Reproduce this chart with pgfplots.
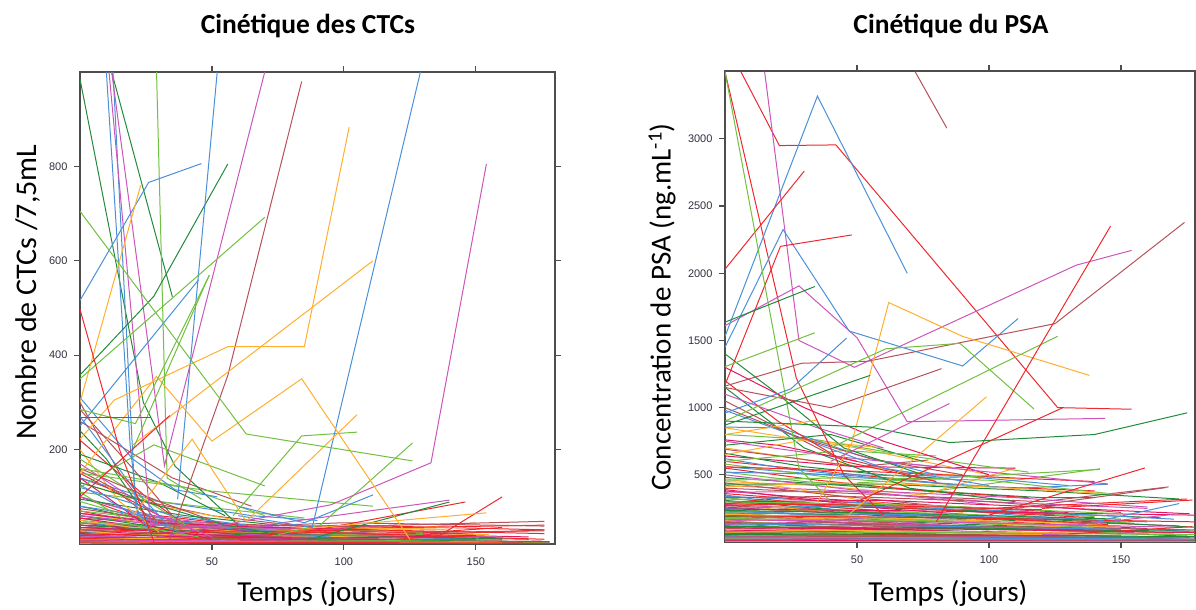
\documentclass[border=0pt]{standalone}
\usepackage{fontspec}
\setmainfont{Carlito}
\newfontfamily\tickfont{Liberation Sans}
\usepackage{pgfplots}
\pgfplotsset{compat=1.18}

\definecolor{cR}{HTML}{F0282D}
\definecolor{cB}{HTML}{4A90D9}
\definecolor{cG}{HTML}{72C040}
\definecolor{cD}{HTML}{228B3B}
\definecolor{cO}{HTML}{FFAE2E}
\definecolor{cM}{HTML}{CC55BB}
\definecolor{cN}{HTML}{B5525A}
\definecolor{cK}{HTML}{E0185E}
\definecolor{axcol}{HTML}{4D4D4D}
\definecolor{tkcol}{HTML}{303040}

\pgfplotsset{
  lattice/.style={
    anchor=south west, scale only axis,
    tick align=outside, major tick length=6pt,
    xticklabel pos=lower, yticklabel pos=left,
    xticklabel shift=4pt, yticklabel shift=3pt,
    axis line style={color=axcol, line width=1.2pt},
    every tick/.style={color=axcol, line width=1.2pt},
    tick label style={font=\tickfont\fontsize{11}{13}\selectfont, color=tkcol},
    /pgf/number format/assume math mode=true,
    /pgf/number format/1000 sep={},
    every axis plot/.append style={line width=1pt},
  }
}

\begin{document}
\begin{tikzpicture}
\useasboundingbox (0,0) rectangle (1196pt,610pt);

% ---------- left: CTC ----------
\begin{axis}[lattice, at={(80pt,66pt)}, width=475pt, height=472pt,
  xmin=0, xmax=180, ymin=0, ymax=1000,
  xtick={50,100,150}, ytick={200,400,600,800}]
% dense low mass
\addplot[cR] coordinates {(0,45)(40,20)(90,10)(176,30)};
\addplot[cB] coordinates {(0,30)(35,15)(80,8)};
\addplot[cG] coordinates {(0,55)(30,25)(60,12)(120,5)};
\addplot[cD] coordinates {(0,25)(50,12)(110,6)(178,2)};
\addplot[cO] coordinates {(0,40)(45,30)(100,20)(150,45)};
\addplot[cM] coordinates {(0,20)(30,18)(70,10)(130,15)};
\addplot[cN] coordinates {(0,35)(60,25)(120,40)(176,48)};
\addplot[cK] coordinates {(0,15)(40,10)(90,5)(170,3)};
\addplot[cR] coordinates {(0,70)(28,40)(75,30)(176,40)};
\addplot[cB] coordinates {(0,12)(50,8)(100,15)(160,10)};
\addplot[cG] coordinates {(0,90)(25,50)(55,30)};
\addplot[cD] coordinates {(0,50)(35,28)(80,20)(150,12)};
\addplot[cO] coordinates {(0,18)(40,22)(95,35)(140,30)};
\addplot[cM] coordinates {(0,40)(20,25)(60,20)(110,25)};
\addplot[cN] coordinates {(0,10)(45,15)(100,22)(176,28)};
\addplot[cK] coordinates {(0,28)(30,20)(70,28)(120,18)};
\addplot[cR] coordinates {(0,8)(60,12)(120,20)(160,35)};
\addplot[cB] coordinates {(0,60)(25,45)(55,30)(90,20)};
\addplot[cG] coordinates {(0,22)(50,18)(100,10)(178,4)};
\addplot[cD] coordinates {(0,80)(30,45)(65,25)(100,12)};
\addplot[cO] coordinates {(0,35)(35,20)(80,25)(130,10)};
\addplot[cM] coordinates {(0,5)(40,8)(90,12)(150,6)};
\addplot[cN] coordinates {(0,55)(40,40)(90,30)(140,25)};
\addplot[cK] coordinates {(0,40)(50,30)(110,22)(170,15)};
\addplot[cR] coordinates {(0,25)(25,30)(60,22)(100,28)(150,20)};
\addplot[cB] coordinates {(0,45)(45,25)(90,18)(140,12)};
\addplot[cG] coordinates {(0,12)(35,6)(80,4)(130,3)};
\addplot[cD] coordinates {(0,15)(60,10)(120,8)(178,5)};
\addplot[cO] coordinates {(0,65)(30,40)(75,20)};
\addplot[cM] coordinates {(0,30)(40,35)(85,30)(120,40)};
\addplot[cN] coordinates {(0,20)(30,12)(70,8)(150,10)};
\addplot[cK] coordinates {(0,55)(25,35)(60,25)(95,30)};
\addplot[cR] coordinates {(0,100)(20,60)(50,35)(110,20)};
\addplot[cB] coordinates {(0,80)(30,55)(60,30)(100,25)};
\addplot[cG] coordinates {(0,35)(40,28)(95,20)(150,15)};
\addplot[cD] coordinates {(0,5)(50,3)(120,2)(178,1)};
\addplot[cO] coordinates {(0,10)(30,12)(80,15)(155,20)};
\addplot[cM] coordinates {(0,65)(35,45)(80,35)};
\addplot[cN] coordinates {(0,45)(50,35)(100,45)(176,38)};
\addplot[cK] coordinates {(0,8)(40,4)(110,3)(175,6)};
\addplot[cR] coordinates {(0,35)(45,28)(100,40)(176,30)};
\addplot[cB] coordinates {(0,20)(20,40)(50,25)(95,15)};
\addplot[cG] coordinates {(0,70)(40,45)(85,25)(130,20)};
\addplot[cD] coordinates {(0,40)(45,25)(100,18)(170,10)};
\addplot[cO] coordinates {(0,28)(25,18)(55,25)(100,30)(145,35)};
\addplot[cM] coordinates {(0,15)(55,20)(110,18)(160,15)};
\addplot[cN] coordinates {(0,75)(30,50)(70,40)(120,35)};
\addplot[cK] coordinates {(0,22)(40,15)(90,12)(150,18)};
\addplot[cR] coordinates {(0,12)(30,8)(90,25)(176,10)};
\addplot[cB] coordinates {(0,100)(20,70)(45,40)(70,30)};
\addplot[cG] coordinates {(0,45)(60,35)(130,25)};
\addplot[cD] coordinates {(0,60)(30,35)(70,15)(120,8)};
\addplot[cO] coordinates {(0,50)(20,35)(45,30)};
\addplot[cM] coordinates {(0,100)(25,60)(55,40)};
\addplot[cN] coordinates {(0,30)(45,20)(100,12)(160,8)};
\addplot[cK] coordinates {(0,65)(30,45)(70,35)(110,30)};
\addplot[cR] coordinates {(0,18)(50,25)(110,30)(176,22)};
\addplot[cB] coordinates {(0,3)(60,5)(130,4)(178,2)};
\addplot[cG] coordinates {(0,6)(50,5)(120,7)(176,3)};
\addplot[cD] coordinates {(0,2)(80,2)(178,1)};
\addplot[cO] coordinates {(0,2)(70,4)(160,3)};
\addplot[cR] coordinates {(0,4)(90,3)(178,2)};
\addplot[cM] coordinates {(0,9)(60,6)(140,5)};
\addplot[cK] coordinates {(0,35)(20,30)(45,20)(80,12)};
\addplot[cN] coordinates {(0,140)(25,90)(50,60)(80,40)};
\addplot[cR] coordinates {(0,150)(30,60)(60,40)};
\addplot[cB] coordinates {(0,140)(30,90)(65,60)(90,50)};
\addplot[cG] coordinates {(0,110)(45,80)(85,55)};
\addplot[cD] coordinates {(0,95)(40,60)(75,40)};
\addplot[cO] coordinates {(0,130)(30,80)(60,50)};
\addplot[cN] coordinates {(0,300)(15,150)(30,40)};
\addplot[cB] coordinates {(0,270)(20,120)(35,30)};
\addplot[cD] coordinates {(0,240)(10,180)(25,60)};
\addplot[cR] coordinates {(0,220)(25,100)(45,20)};
\addplot[cO] coordinates {(0,200)(15,90)(30,25)};
\addplot[cG] coordinates {(0,180)(20,110)(40,40)};
\addplot[cM] coordinates {(0,170)(30,60)(50,15)};
\addplot[cN] coordinates {(0,155)(12,120)(28,50)};
\addplot[cK] coordinates {(0,140)(25,40)(50,10)};
\addplot[cB] coordinates {(0,125)(18,70)(40,20)};
\addplot[cG] coordinates {(0,110)(20,40)(45,15)};
\addplot[cD] coordinates {(0,190)(30,130)(55,60)};
\addplot[cN] coordinates {(0,260)(35,140)(65,80)};
% mid-level lines
\addplot[cN] coordinates {(0,285)(20,160)(35,60)};
\addplot[cN] coordinates {(0,160)(30,90)(60,30)};
\addplot[cG] coordinates {(0,160)(40,120)(70,60)};
\addplot[cD] coordinates {(0,130)(55,40)(75,20)};
\addplot[cB] coordinates {(0,120)(35,60)(63,40)};
\addplot[cM] coordinates {(0,60)(30,40)(90,30)};
\addplot[cR] coordinates {(120,10)(136,17)(160,100)};
\addplot[cR] coordinates {(85,25)(146,89)};
\addplot[cD] coordinates {(90,15)(140,89)};
\addplot[cM] coordinates {(70,40)(140,93)};
\addplot[cG] coordinates {(0,150)(50,112)(111,80)};
\addplot[cB] coordinates {(60,80)(85,45)(111,104)};
\addplot[cO] coordinates {(80,30)(154,66)};
\addplot[cG] coordinates {(0,120)(28,210)(70,123)};
\addplot[cG] coordinates {(58,60)(84,229)(105,237)};
\addplot[cG] coordinates {(75,20)(91,40)(126,214)};
% tall lines
\addplot[cD] coordinates {(0,985)(24,300)(36,165)(60,40)};
\addplot[cD] coordinates {(12,1000)(35,524)};
\addplot[cG] coordinates {(29,1000)(33,140)(46,95)};
\addplot[cB] coordinates {(10,1000)(19,210)(22,60)};
\addplot[cB] coordinates {(12.5,1000)(21,80)(27,20)};
\addplot[cM] coordinates {(12,1000)(32,166)(70,1000)};
\addplot[cM] coordinates {(11,1000)(27,30)};
\addplot[cB] coordinates {(0,516)(26,766)(46,806)};
\addplot[cD] coordinates {(0,358)(28,525)(56,805)};
\addplot[cB] coordinates {(37,95)(52,1000)};
\addplot[cB] coordinates {(0,250)(45,560)};
\addplot[cB] coordinates {(0,310)(20,180)(36,115)(52,100)};
\addplot[cN] coordinates {(34,10)(56,357)(84,980)};
\addplot[cB] coordinates {(60,60)(88,35)(129,1000)};
\addplot[cM] coordinates {(30,15)(95,83)(133,172)(154,805)};
\addplot[cO] coordinates {(0,222)(13,305)(56,418)(85,418)(102,883)};
\addplot[cO] coordinates {(20,210)(111,600)};
\addplot[cO] coordinates {(0,300)(23,760)};
\addplot[cO] coordinates {(0,150)(29,355)(50,218)(84,350)(125,10)};
\addplot[cO] coordinates {(20,60)(42.5,222)(63,48)(105,274)};
\addplot[cG] coordinates {(0,705)(63,233)(126,176)};
\addplot[cG] coordinates {(0,350)(70,692)};
\addplot[cG] coordinates {(20,200)(49,570)};
\addplot[cG] coordinates {(0,285)(21,255)(49,569)};
\addplot[cR] coordinates {(0,497)(15,200)(28,5)};
\addplot[cR] coordinates {(0,267)(27,267)};
\addplot[cR] coordinates {(0,100)(34,272)};
\end{axis}

% ---------- right: PSA ----------
\begin{axis}[lattice, at={(725pt,68pt)}, width=470pt, height=471pt,
  xmin=0, xmax=178, ymin=0, ymax=3505,
  xtick={50,100,150}, ytick={500,1000,1500,2000,2500,3000}]
\addplot[cR] coordinates {(0,600)(40,520)(90,420)(140,380)};
\addplot[cB] coordinates {(0,560)(50,480)(110,400)(145,430)};
\addplot[cG] coordinates {(0,520)(30,450)(80,380)(142,545)};
\addplot[cD] coordinates {(0,480)(60,400)(120,330)(140,330)};
\addplot[cO] coordinates {(0,450)(35,420)(75,350)(110,550)};
\addplot[cM] coordinates {(0,420)(45,380)(100,300)(160,250)};
\addplot[cN] coordinates {(0,400)(50,360)(120,300)(168,410)};
\addplot[cK] coordinates {(0,380)(30,330)(70,280)(130,220)};
\addplot[cR] coordinates {(0,360)(40,300)(100,250)(175,320)};
\addplot[cB] coordinates {(0,340)(55,290)(110,200)(150,150)};
\addplot[cG] coordinates {(0,320)(25,300)(80,240)(140,190)};
\addplot[cD] coordinates {(0,300)(50,260)(100,230)(165,180)};
\addplot[cO] coordinates {(0,290)(40,240)(90,180)(150,120)};
\addplot[cM] coordinates {(0,280)(30,250)(70,200)(120,160)};
\addplot[cN] coordinates {(0,270)(60,220)(130,150)(172,120)};
\addplot[cK] coordinates {(0,260)(45,210)(95,160)(160,100)};
\addplot[cR] coordinates {(0,250)(35,230)(85,190)(145,130)};
\addplot[cB] coordinates {(0,240)(50,190)(115,130)(176,80)};
\addplot[cG] coordinates {(0,230)(40,200)(90,150)(135,110)};
\addplot[cD] coordinates {(0,220)(30,180)(80,140)(150,90)};
\addplot[cO] coordinates {(0,210)(55,170)(120,120)(170,60)};
\addplot[cM] coordinates {(0,200)(45,160)(100,110)(155,70)};
\addplot[cN] coordinates {(0,190)(35,170)(75,130)(130,100)};
\addplot[cK] coordinates {(0,180)(50,140)(110,100)(178,40)};
\addplot[cR] coordinates {(0,170)(40,150)(95,110)(160,80)};
\addplot[cB] coordinates {(0,160)(30,120)(70,90)(125,60)};
\addplot[cG] coordinates {(0,150)(60,120)(130,80)(175,50)};
\addplot[cD] coordinates {(0,140)(45,110)(100,70)(150,40)};
\addplot[cO] coordinates {(0,130)(35,100)(85,70)(140,50)};
\addplot[cM] coordinates {(0,120)(50,90)(115,60)(170,30)};
\addplot[cN] coordinates {(0,110)(40,80)(90,50)(145,30)};
\addplot[cK] coordinates {(0,100)(30,75)(75,55)(135,35)};
\addplot[cR] coordinates {(0,90)(55,70)(120,40)(178,20)};
\addplot[cB] coordinates {(0,80)(45,60)(100,40)(160,25)};
\addplot[cG] coordinates {(0,70)(35,50)(80,35)(130,20)};
\addplot[cD] coordinates {(0,60)(50,45)(110,30)(176,15)};
\addplot[cO] coordinates {(0,50)(40,40)(95,25)(150,15)};
\addplot[cM] coordinates {(0,40)(30,30)(70,20)(120,12)};
\addplot[cN] coordinates {(0,30)(60,25)(130,15)(178,8)};
\addplot[cK] coordinates {(0,20)(45,15)(100,10)(170,5)};
\addplot[cR] coordinates {(0,10)(50,8)(120,5)(178,3)};
\addplot[cD] coordinates {(0,5)(70,4)(178,2)};
\addplot[cB] coordinates {(0,350)(25,280)(60,200)(100,150)};
\addplot[cG] coordinates {(0,330)(40,260)(85,200)};
\addplot[cD] coordinates {(0,310)(35,250)(70,190)(110,160)};
\addplot[cO] coordinates {(0,470)(25,400)(55,300)(90,220)};
\addplot[cM] coordinates {(0,500)(30,430)(65,350)(100,280)};
\addplot[cN] coordinates {(0,440)(40,350)(85,260)(125,200)};
\addplot[cK] coordinates {(0,390)(30,320)(60,250)(95,200)};
\addplot[cR] coordinates {(0,550)(35,460)(75,380)(115,330)};
\addplot[cB] coordinates {(0,620)(25,540)(55,480)(90,420)};
\addplot[cG] coordinates {(0,580)(40,480)(80,420)};
\addplot[cD] coordinates {(0,660)(30,560)(60,500)(85,470)};
\addplot[cO] coordinates {(0,700)(35,600)(70,520)(110,470)};
\addplot[cM] coordinates {(0,750)(40,640)(80,560)};
\addplot[cN] coordinates {(0,690)(20,640)(50,560)(77,610)};
\addplot[cK] coordinates {(0,640)(50,560)(110,550)};
\addplot[cR] coordinates {(0,560)(60,520)(140,450)};
\addplot[cB] coordinates {(0,520)(45,500)(90,490)(130,420)};
\addplot[cG] coordinates {(0,460)(50,480)(100,460)(150,350)};
\addplot[cD] coordinates {(0,430)(60,430)(120,380)(172,320)};
\addplot[cO] coordinates {(0,410)(40,440)(90,420)(145,360)};
\addplot[cM] coordinates {(0,370)(55,380)(110,330)(160,260)};
\addplot[cN] coordinates {(0,330)(45,340)(100,300)(150,220)};
\addplot[cK] coordinates {(0,300)(60,310)(120,260)(176,210)};
\addplot[cR] coordinates {(0,270)(30,290)(80,240)(140,180)};
\addplot[cB] coordinates {(0,250)(50,270)(110,230)(170,170)};
\addplot[cG] coordinates {(0,220)(40,240)(100,200)(155,140)};
\addplot[cD] coordinates {(0,190)(55,210)(120,170)(178,110)};
\addplot[cO] coordinates {(0,160)(45,180)(90,150)(150,110)};
\addplot[cM] coordinates {(0,130)(35,150)(85,120)(140,80)};
\addplot[cN] coordinates {(0,100)(50,120)(115,90)(170,70)};
\addplot[cK] coordinates {(0,80)(40,100)(90,80)(150,60)};
\addplot[cR] coordinates {(0,60)(30,80)(75,60)(130,45)};
\addplot[cB] coordinates {(0,40)(60,55)(125,45)(176,35)};
\addplot[cG] coordinates {(0,25)(45,35)(100,30)(160,25)};
\addplot[cD] coordinates {(0,15)(50,20)(120,15)(178,12)};
\addplot[cO] coordinates {(0,200)(20,260)(40,220)(70,150)};
\addplot[cM] coordinates {(0,150)(25,200)(55,170)(85,120)};
\addplot[cN] coordinates {(0,100)(30,150)(60,130)(100,90)};
\addplot[cK] coordinates {(0,50)(20,90)(45,80)(80,60)};
\addplot[cR] coordinates {(0,280)(15,320)(40,260)(60,230)};
\addplot[cB] coordinates {(0,230)(25,210)(50,180)(75,200)};
\addplot[cG] coordinates {(0,180)(30,200)(65,170)(105,130)};
\addplot[cD] coordinates {(0,120)(40,100)(85,110)(130,90)};
\addplot[cO] coordinates {(0,70)(35,90)(70,70)(120,55)};
\addplot[cM] coordinates {(0,35)(45,50)(90,40)(140,30)};
\addplot[cN] coordinates {(0,12)(60,15)(120,10)(175,8)};
\addplot[cK] coordinates {(0,8)(40,10)(100,6)(178,4)};
\addplot[cG] coordinates {(0,3)(90,3)(178,2)};
% near-flat low band
\addplot[cK] coordinates {(0,245)(80,230)(178,200)};
\addplot[cD] coordinates {(0,235)(60,215)(150,170)};
\addplot[cB] coordinates {(0,215)(70,205)(160,150)};
\addplot[cO] coordinates {(0,205)(50,185)(130,140)};
\addplot[cR] coordinates {(0,195)(90,180)(178,150)};
\addplot[cG] coordinates {(0,175)(60,160)(140,120)};
\addplot[cM] coordinates {(0,165)(80,150)(170,110)};
\addplot[cN] coordinates {(0,145)(50,130)(120,110)(178,90)};
\addplot[cB] coordinates {(0,135)(70,120)(150,95)};
\addplot[cD] coordinates {(0,115)(60,105)(178,80)};
\addplot[cK] coordinates {(0,105)(90,95)(178,70)};
\addplot[cO] coordinates {(0,95)(50,85)(140,65)};
\addplot[cG] coordinates {(0,75)(80,70)(178,55)};
\addplot[cR] coordinates {(0,65)(60,55)(150,45)};
\addplot[cD] coordinates {(0,55)(100,50)(178,40)};
\addplot[cN] coordinates {(0,45)(70,40)(178,30)};
\addplot[cB] coordinates {(0,32)(90,28)(178,22)};
\addplot[cM] coordinates {(0,22)(60,20)(178,15)};
\addplot[cG] coordinates {(0,300)(80,270)(150,210)};
\addplot[cR] coordinates {(0,285)(50,275)(120,240)};
% upper-left descending lines
\addplot[cD] coordinates {(0,1150)(30,700)(70,400)(110,300)};
\addplot[cN] coordinates {(0,1050)(40,650)(80,450)};
\addplot[cB] coordinates {(0,980)(25,800)(60,550)(100,420)};
\addplot[cO] coordinates {(0,850)(50,700)(100,500)};
\addplot[cG] coordinates {(0,800)(35,760)(70,640)(115,520)};
\addplot[cK] coordinates {(0,760)(20,720)(50,600)};
\addplot[cD] coordinates {(0,720)(40,800)(75,600)};
\addplot[cO] coordinates {(0,650)(30,760)(60,700)};
\addplot[cG] coordinates {(0,600)(45,680)(80,640)};
\addplot[cB] coordinates {(0,855)(21,850)(50,650)(80,500)};
\addplot[cR] coordinates {(0,1200)(20,900)(45,600)(80,450)};
\addplot[cM] coordinates {(0,1100)(35,850)(60,700)};
\addplot[cN] coordinates {(0,1000)(28,780)(55,620)(90,500)};
\addplot[cD] coordinates {(0,1400)(20,1100)(45,700)(75,500)};
\addplot[cK] coordinates {(0,1300)(30,1000)(60,750)(100,500)};
\addplot[cO] coordinates {(0,800)(35,908)};
% prominent lines
\addplot[cR] coordinates {(100,200)(159,551)};
\addplot[cN] coordinates {(110,250)(167,405)};
\addplot[cR] coordinates {(120,250)(177,312)};
\addplot[cB] coordinates {(140,150)(172,286)};
\addplot[cM] coordinates {(130,120)(170,206)};
\addplot[cR] coordinates {(130,60)(177,114)};
\addplot[cM] coordinates {(60,600)(145,432)};
\addplot[cG] coordinates {(50,440)(142,540)};
\addplot[cR] coordinates {(0,3500)(27,1220)(45,500)(60,200)};
\addplot[cR] coordinates {(6,3500)(20.6,2950)(42,2955)(126,1000)(154,988)};
\addplot[cM] coordinates {(15,3500)(28,1500)(49,1300)(133,2060)(154,2170)};
\addplot[cM] coordinates {(0,1610)(28,1906)(50,1520)(69,895)(144,920)};
\addplot[cB] coordinates {(0,1530)(35,3318)(69,2000)};
\addplot[cB] coordinates {(0,1450)(22,2325)(47,1570)(90,1310)(111,1663)};
\addplot[cR] coordinates {(0,2030)(30,2760)};
\addplot[cR] coordinates {(0,1170)(21,2200)(48,2285)};
\addplot[cG] coordinates {(0,3500)(28,550)(40,300)};
\addplot[cD] coordinates {(0,1636)(34,1901)};
\addplot[cG] coordinates {(0,1305)(34,1557)};
\addplot[cN] coordinates {(0,1160)(29,1330)(54,1345)(125,1625)(174,2378)};
\addplot[cN] coordinates {(0,1150)(40,1000)(82,1290)};
\addplot[cN] coordinates {(72,3500)(84,3080)};
\addplot[cO] coordinates {(35,300)(48,736)(62,1782)(90,1530)(138,1240)};
\addplot[cG] coordinates {(0,900)(61,1438)(89,1478)(117,990)};
\addplot[cG] coordinates {(40,700)(126,1531)};
\addplot[cR] coordinates {(80,150)(146,2350)};
\addplot[cD] coordinates {(0,900)(55,855)(85,740)(140,800)(175,961)};
\addplot[cO] coordinates {(47,206)(99,1080)};
\addplot[cR] coordinates {(50,300)(128,1000)};
\addplot[cM] coordinates {(40,600)(85,1030)};
\addplot[cD] coordinates {(0,870)(55,1240)};
\addplot[cB] coordinates {(0,960)(25,1140)(46,1517)};
\end{axis}

% titles and labels
\node[anchor=base, font=\bfseries\fontsize{27.5}{32}\selectfont] at (308pt,576pt) {Cinétique des CTCs};
\node[anchor=base, font=\bfseries\fontsize{27.5}{32}\selectfont] at (951pt,576pt) {Cinétique du PSA};
\node[anchor=base, font=\fontsize{29}{34}\selectfont] at (317pt,8pt) {Temps (jours)};
\node[anchor=base, font=\fontsize{29}{34}\selectfont] at (948pt,8pt) {Temps (jours)};
\node[rotate=90, font=\fontsize{30}{35}\selectfont] at (28pt,318pt) {Nombre de CTCs /7,5mL};
\node[rotate=90, font=\fontsize{29}{34}\selectfont] at (662pt,303pt) {Concentration de PSA (ng.mL\textsuperscript{-1})};
\end{tikzpicture}
\end{document}
